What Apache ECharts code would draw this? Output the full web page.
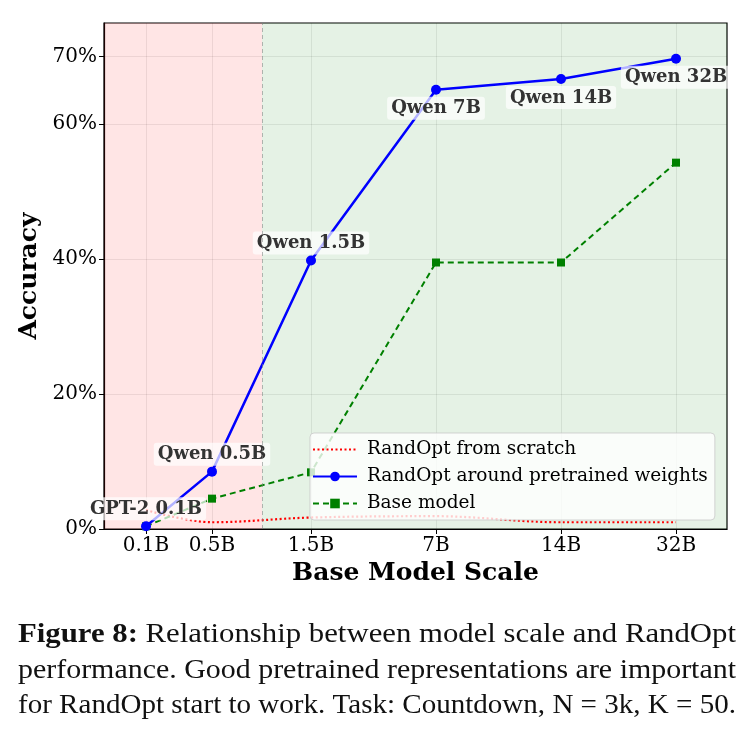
<!DOCTYPE html>
<html>
<head>
<meta charset="utf-8">
<script src="https://cdn.jsdelivr.net/npm/echarts@6/dist/echarts.min.js"></script>
<style>
html, body { margin: 0; padding: 0; background: #fff; }
#main { width: 752px; height: 738px; }
</style>
</head>
<body>
<div id="main"></div>
<script>
// model sizes and where they sit on the (non uniform) x scale
const modelNames = ['0.1B', '0.5B', '1.5B', '7B', '14B', '32B'];
const xPos = [0, 0.66, 1.65, 2.90, 4.15, 5.30];
const pointLabels = ['GPT-2 0.1B', 'Qwen 0.5B', 'Qwen 1.5B', 'Qwen 7B', 'Qwen 14B', 'Qwen 32B'];
const labelSide = ['top', 'top', 'top', 'bottom', 'bottom', 'bottom'];

// accuracy in %
const fromScratch = [2.8, 1.0, 1.7, 1.9, 1.0, 1.0];
const aroundPretrained = [0.4, 8.5, 39.8, 65.1, 66.7, 69.7];
const baseModel = [0.4, 4.5, 8.4, 39.5, 39.5, 54.3];

const yTicks = [0, 20, 40, 60, 70];
const xMin = -0.42, xMax = 5.81;
const splitAt = 1.16; // gpt-2 / qwen region boundary

const captionLines = [
    'Figure 8: Relationship between model scale and RandOpt',
    'performance. Good pretrained representations are important',
    'for RandOpt start to work. Task: Countdown, N = 3k, K = 50.'
];

const serif = 'DejaVu Serif';

function pairs(ys) {
    return xPos.map((x, i) => [x, ys[i]]);
}

// caption, one text element per word. each line is stretched a little so that
// it fills the width with ordinary spaces (the original font is wider than times)
function buildCaption() {
    let ctx = document.createElement('canvas').getContext('2d');
    let size = 27, left = 18, right = 736;
    let ys = [635, 671, 706];
    let regular = size + 'px "Liberation Serif"';
    let bold = 'bold ' + size + 'px "Liberation Serif"';

    ctx.font = regular;
    let space = ctx.measureText(' ').width;

    let out = [];
    captionLines.forEach((line, li) => {
        let words = line.split(' ');
        let fonts = words.map((w, wi) => (li == 0 && wi < 2) ? bold : regular);
        let widths = words.map((w, wi) => {
            ctx.font = fonts[wi];
            return ctx.measureText(w).width;
        });
        let natural = widths.reduce((a, b) => a + b, 0) + space * (words.length - 1);
        let stretch = (right - left) / natural;
        let x = left;
        words.forEach((w, wi) => {
            out.push({
                type: 'text',
                x: x,
                y: ys[li],
                scaleX: stretch,
                style: {
                    text: w,
                    font: fonts[wi],
                    fill: '#111',
                    verticalAlign: 'middle'
                }
            });
            x += (widths[wi] + space) * stretch;
        });
    });
    return out;
}

let mychart = echarts.init(document.getElementById('main'), null, { renderer: 'canvas' });

let option = {
    animation: false,
    backgroundColor: '#fff',
    grid: {
        left: 104,
        right: 25,
        top: 23,
        bottom: 209,
        show: true,
        borderColor: '#000',
        borderWidth: 1.2,
        backgroundColor: 'transparent'
    },
    legend: {
        left: 310,
        top: 433,
        orient: 'vertical',
        itemWidth: 44,
        itemHeight: 12,
        itemGap: 8,
        padding: [7, 7, 7, 2],
        backgroundColor: 'rgba(255,255,255,0.8)',
        borderColor: 'rgba(200,200,200,0.8)',
        borderWidth: 1,
        borderRadius: 4,
        textStyle: { fontFamily: serif, fontSize: 18.5, color: '#000', padding: [0, 0, 0, 5] },
        data: ['RandOpt from scratch', 'RandOpt around pretrained weights', 'Base model']
    },
    xAxis: {
        type: 'value',
        min: xMin,
        max: xMax,
        name: 'Base Model Scale',
        nameLocation: 'middle',
        nameGap: 30,
        nameTextStyle: { fontFamily: serif, fontWeight: 'bold', fontSize: 25, color: '#000' },
        axisLine: { show: true, onZero: false, lineStyle: { color: '#000', width: 1.2 } },
        axisTick: { show: true, customValues: xPos, length: 5, lineStyle: { color: '#000' } },
        axisLabel: {
            customValues: xPos,
            fontFamily: serif,
            fontSize: 20,
            color: '#000',
            margin: 7,
            formatter: function (v) {
                let i = xPos.indexOf(v);
                return i >= 0 ? modelNames[i] : '';
            }
        },
        splitLine: { show: true, lineStyle: { color: 'rgba(0,0,0,0.08)', width: 1 } }
    },
    yAxis: {
        type: 'value',
        min: 0,
        max: 75,
        name: 'Accuracy',
        nameLocation: 'middle',
        nameGap: 51,
        nameTextStyle: { fontFamily: serif, fontWeight: 'bold', fontSize: 25, color: '#000' },
        axisLine: { show: true, onZero: false, lineStyle: { color: '#000', width: 1.2 } },
        axisTick: { show: true, customValues: yTicks, length: 5, lineStyle: { color: '#000' } },
        axisLabel: {
            customValues: yTicks,
            fontFamily: serif,
            fontSize: 20,
            color: '#000',
            margin: 7,
            formatter: '{value}%'
        },
        splitLine: { show: true, lineStyle: { color: 'rgba(0,0,0,0.08)', width: 1 } }
    },
    series: [
        {
            name: 'RandOpt from scratch',
            type: 'line',
            data: pairs(fromScratch),
            smooth: 0.35,
            showSymbol: false,
            symbol: 'none',
            lineStyle: { color: '#ff0000', width: 2.2, type: [2, 2.5] },
            itemStyle: { color: '#ff0000', opacity: 0 },
            z: 3,
            markArea: {
                silent: true,
                data: [
                    [{ xAxis: xMin, itemStyle: { color: 'rgba(255,0,0,0.1)', opacity: 1 } }, { xAxis: splitAt }],
                    [{ xAxis: splitAt, itemStyle: { color: 'rgba(0,128,0,0.1)', opacity: 1 } }, { xAxis: xMax }]
                ]
            },
            markLine: {
                silent: true,
                symbol: 'none',
                label: { show: false },
                lineStyle: { color: 'rgba(128,128,128,0.55)', type: [4, 3], width: 1, opacity: 1 },
                data: [{ xAxis: splitAt }]
            }
        },
        {
            name: 'RandOpt around pretrained weights',
            type: 'line',
            data: xPos.map((x, i) => ({
                value: [x, aroundPretrained[i]],
                label: { position: labelSide[i], distance: labelSide[i] == 'top' ? 1 : 2 }
            })),
            symbol: 'circle',
            symbolSize: 10,
            lineStyle: { color: '#0000ff', width: 2.5 },
            itemStyle: { color: '#0000ff' },
            z: 4,
            label: {
                show: true,
                formatter: p => pointLabels[p.dataIndex],
                fontFamily: serif,
                fontWeight: 'bold',
                fontSize: 18,
                color: '#333',
                backgroundColor: 'rgba(255,255,255,0.7)',
                borderRadius: 3,
                padding: [3, 4, 2, 4]
            }
        },
        {
            name: 'Base model',
            type: 'line',
            data: pairs(baseModel),
            symbol: 'rect',
            symbolSize: 8,
            lineStyle: { color: '#008000', width: 2, type: [6, 4] },
            itemStyle: { color: '#008000' },
            z: 3
        }
    ],
    graphic: buildCaption()
};

mychart.setOption(option);
</script>
</body>
</html>
